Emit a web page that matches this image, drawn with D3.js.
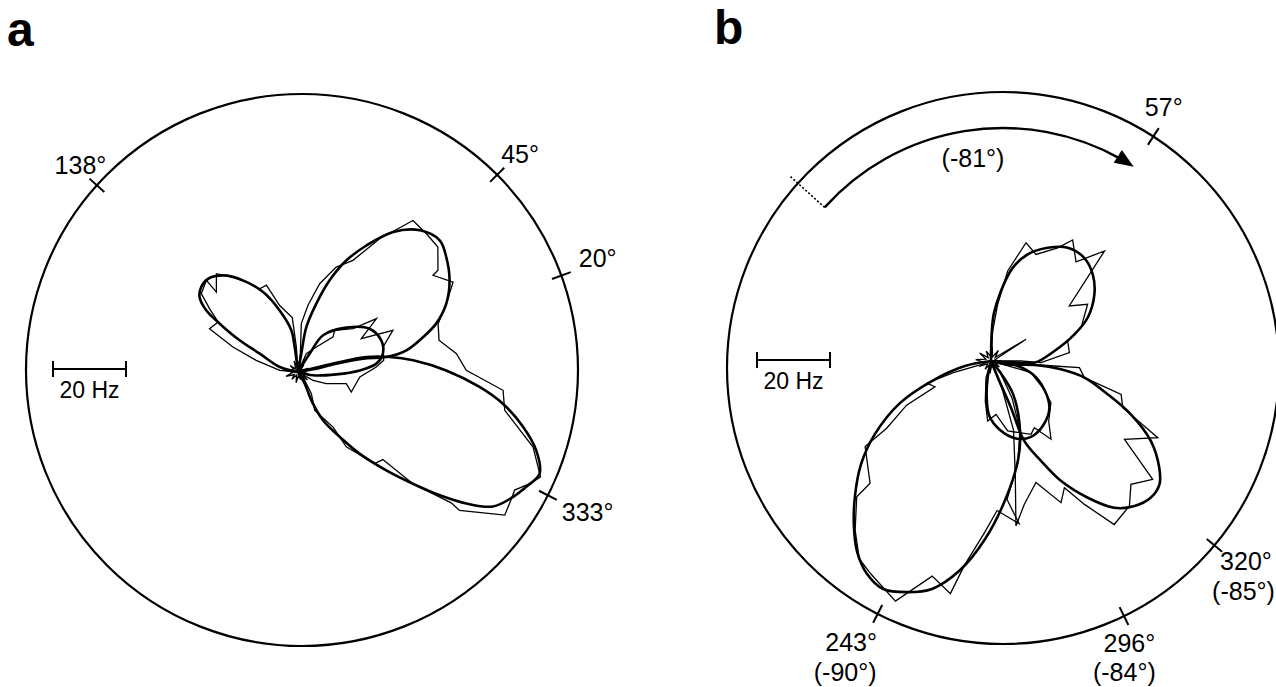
<!DOCTYPE html>
<meta charset="utf-8">
<title>Directional tuning before and after cue rotation</title>
<style>

body {
  margin: 0;
  background: #fff;
}

text {
  font-family: "Liberation Sans", Arial, Helvetica, sans-serif;
  fill: #000;
}

.panel-letter {
  font-size: 48px;
  font-weight: bold;
}

.label {
  font-size: 25px;
}

.bar-label {
  font-size: 23px;
}

.outer {
  fill: none;
  stroke: #000;
  stroke-width: 2.2px;
}

.tick, .bar {
  stroke: #000;
  stroke-width: 2px;
}

.fit {
  fill: none;
  stroke: #000;
  stroke-width: 2.6px;
  stroke-linejoin: round;
}

.raw {
  fill: none;
  stroke: #000;
  stroke-width: 1.3px;
}

.rotation {
  fill: none;
  stroke: #000;
  stroke-width: 2.4px;
}

.rotation-start {
  stroke: #000;
  stroke-width: 1.6px;
  stroke-dasharray: 2,2;
}

</style>
<svg id="chart" width="1276" height="687"></svg>

<script src="https://d3js.org/d3.v7.min.js"></script>
<script>

// rates are [direction in degrees (counter-clockwise from east), firing rate in Hz]
// ---- panel a ----
var fitA138 = [[120,0],[97.6,6.9],[99.1,11.6],[106.6,17.6],[113.6,23.9],[121,29.3],[127.8,33.5],[134,35.5],[138.7,35.3],[142.7,33.9],[146.1,30.3],[148.3,25.2],[151.5,18.2],[154.4,11.6],[164.7,5.2],[160,0]];
var fitA45 = [[80,0],[79.7,5.1],[79.5,12.5],[75,19.4],[71,26.6],[66.6,33.3],[61.6,39.4],[55.8,46.4],[49.3,51.2],[42.9,53],[37.8,51.4],[31.1,48.5],[24.7,44.7],[19.3,40.1],[15.6,35.6],[11.3,30.3],[9.6,24.5],[11.6,18.2],[12.3,10.7],[10,4.2],[10,0]];
var fitA20 = [[60,0],[57.5,6],[55.7,12.2],[42.5,18],[31.2,22.9],[20.8,24.4],[12.2,23.8],[6.1,21.6],[1.5,16.9],[-3.5,10.5],[-12.5,4.2],[-10,0]];
var fitA333 = [[13,0],[13.3,5.2],[13.5,11.7],[12.4,19.2],[9.3,25.5],[5.8,31.7],[0.6,40.6],[-4.7,49.9],[-8.8,56.8],[-13.7,63.5],[-18.2,68.7],[-22.8,71.8],[-26.7,70],[-30.2,68.1],[-34.6,64.9],[-38,58.5],[-41,51.5],[-44.2,43.9],[-48.1,36.2],[-53,28],[-57.3,21.1],[-62.6,14.9],[-64.8,8.6],[-60,3.7],[-60,0]];

var rawA138 = [[90,0],[93.8,6.9],[96,15],[105.4,18.9],[110,25.3],[114.7,25.1],[119.9,28.4],[124.4,31.5],[129.7,35],[135.6,31.3],[135,35.5],[141,34.1],[144.4,29.8],[148,25.8],[153.9,27],[159,19.1],[164.4,11.9],[174.8,5],[170,0]];
var rawA20 = [[60,0],[65.6,5.5],[53.7,8.5],[45,13.6],[48.7,15.2],[38.2,19.2],[34.2,26],[27.8,19.6],[23.7,28.4],[16.4,24.3],[7.8,23.7],[3.7,21.5],[-4.6,17],[-20.6,15.6],[-13.5,13.6],[-22.4,8.4],[-29,4.7],[-20,0]];
var rawA45to333 = [[80,0],[82.7,5.1],[86.1,13.3],[81.5,18.5],[76.2,24.9],[70,30.6],[63.8,34.1],[58.5,42.8],[52.8,52.1],[47.1,51.7],[41.8,51.4],[36,47.4],[35.6,45.5],[30.1,49.1],[24.7,44.7],[19,40.6],[12.7,39.6],[6.6,43.7],[0.6,46.1],[-5.1,56.4],[-10.5,57.6],[-17.7,67.6],[-23.4,72.4],[-25.7,70.5],[-28.6,67.6],[-30.7,68],[-34.7,68.9],[-40.6,58.3],[-40.5,55.2],[-44.2,43.9],[-45.9,33.4],[-50.1,32.7],[-57.2,24.4],[-57.5,17.9],[-66.5,11.5],[-58.4,7],[-45,1.9],[-45,0]];
var knotA = [[0,1.5],[20,3],[35,0.8],[50,2.5],[65,1],[80,4],[95,1.2],[110,3.2],[125,1],[140,2.8],[155,1.1],[170,4.2],[185,1.5],[200,3.5],[215,1.2],[230,2.6],[245,0.9],[260,3],[275,1.1],[290,2.2],[305,1],[320,3.4],[335,1.2],[350,2.8]];

var ticksA = [138, 45, 20, 333];
var tickLabelsA = [["138°"], ["45°"], ["20°"], ["333°"]];

// ---- panel b ----
var fitB57 = [[90,0],[88.6,7.3],[86.7,12.8],[81.9,19.4],[76.9,26.2],[71,30.9],[63.4,34.7],[55.9,37.5],[47.9,38.1],[40.4,36.6],[32.8,33.7],[24.1,29],[17.7,24],[9,17.6],[-2.2,11.9],[-3,5.5],[-3,0]];
var fitB320 = [[-10,0],[-11.3,4.7],[-5.3,11.9],[-6.8,19.3],[-10.1,26],[-15.9,33.2],[-20.9,41],[-26.6,49],[-32.4,54.6],[-36.2,57.2],[-40.5,57.6],[-45.3,55.9],[-50,52.5],[-54.7,45.9],[-59.7,38.1],[-63.4,30.6],[-67.4,23.7],[-66.8,13.9],[-67.4,5.9],[-67,0]];
var fitB296 = [[-100,0],[-101.3,4.7],[-96.7,10.1],[-91.7,15.1],[-83,18.9],[-72.1,22.3],[-62.2,23.5],[-50.3,22.6],[-38.7,20.5],[-28,16.5],[-17.7,12],[-10.6,7.4],[-10,0]];
var fitB243 = [[190,0],[190.9,7.3],[198.7,17.1],[204.8,27.5],[212.2,37.6],[218.4,45.4],[224.6,52.3],[230.3,58.8],[235,63.9],[239.8,67.5],[244.7,69.1],[250.2,67.3],[255.5,64.5],[261.6,57.9],[268.1,48.8],[275.8,38.3],[285.3,28.1],[292.8,20.5],[303.7,10.9],[309.3,3.9],[310,0]];

var rawB57 = [[90,0],[86.8,8.2],[83.3,15.6],[79.5,25.1],[73.5,33.8],[67.1,31.7],[59.5,36],[56,40],[49.4,35.8],[44.1,43.3],[35.1,26.2],[30.4,30.7],[20.3,26.3],[14.6,21.7],[6.1,21.6],[-1.9,13.7],[0,8.2],[0,0]];
var rawB320 = [[-5,0],[-5.1,8.2],[-4.5,17.4],[-4.3,24.3],[-10.1,26],[-14.4,36.8],[-19.5,38.3],[-24.7,50.3],[-30.4,42.4],[-36.2,54.9],[-41.4,51.1],[-46.3,54.9],[-53,56.1],[-56.9,46.9],[-59.9,40.1],[-63.7,43.3],[-69.7,35.5],[-76.9,40.3],[-81.4,45.7],[-78,32],[-72,20],[-68,8],[-68,0]];
var rawB296 = [[-105,0],[-106.7,4.8],[-98.1,11.1],[-93.2,16.5],[-84.6,14.7],[-76.6,19.7],[-61.4,22.9],[-57,21.8],[-52.5,27],[-46.1,22.8],[-34.8,20],[-27.3,15.9],[-16.3,11.4],[-15.9,6.6],[-15,0]];
var rawB243 = [[200,0],[200,3.2],[197.2,10.8],[199.1,18.6],[204.7,16.9],[207.6,26.1],[212.8,34],[214.2,41.7],[225.3,47.1],[225.3,52.3],[231.2,59.4],[236.3,65.1],[240.6,67],[248.3,70.8],[254.7,61.1],[260.1,64.7],[262.6,56.4],[267.9,47],[272.3,41],[279.8,45.2],[276.6,38.2],[285,28.6],[292.8,20.5],[299.6,11.7],[309.3,3.9],[310,0]];
var knotB = [[0,2.5],[15,1],[31.8,11.3],[40,1.5],[55,3.5],[70,1.2],[85,4],[100,1.5],[115,3],[130,1.2],[145,3.8],[160,1.5],[175,4.2],[190,2],[205,3.2],[220,1.2],[235,2.8],[250,1],[265,3.5],[280,1.2],[295,3],[310,1],[325,2.8],[340,1.2]];

var ticksB = [57, 320, 296, 243];
var tickLabelsB = [["57°"], ["320°", "(-85°)"], ["296°", "(-84°)"], ["243°", "(-90°)"]];

var rotationArc = [138, 57];
var rotationLabel = "(-81°)";

var scaleBarHz = 20;

// ---- layout ----
var outerR = 276,
    tickHalf = 10;

// nudges for each tick label line, relative to the outer end of its tick: [anchor, dx, dy]
var labelNudge = {
  "138°": ["middle", -9, -5],
  "45°": ["start", -3, -5],
  "20°": ["start", 8, -5],
  "333°": ["start", 5, 21],
  "57°": ["middle", 5, -12],
  "320°": ["start", -2, 18],
  "(-85°)": ["start", -10, 48],
  "296°": ["middle", 1, 27],
  "(-84°)": ["middle", -4, 56],
  "243°": ["middle", -22, 28],
  "(-90°)": ["middle", -28, 58]
};

var panels = [
  {letter: "a", letterPos: [7, 46], origin: [298, 372], center: [302, 370], bar: [53, 369],
   fits: [fitA138, fitA45, fitA20, fitA333], raws: [rawA138, rawA20, rawA45to333], knot: knotA,
   ticks: ticksA, labels: tickLabelsA},
  {letter: "b", letterPos: [714, 44], origin: [991, 361], center: [1003, 368], bar: [757, 360],
   fits: [fitB57, fitB320, fitB296, fitB243], raws: [rawB57, rawB320, rawB296, rawB243], knot: knotB,
   ticks: ticksB, labels: tickLabelsB, rotation: true}
];

var r = d3.scaleLinear()
    .domain([0, 20])
    .range([0, 73]);

var rad = function(deg) { return deg * Math.PI / 180; };

// d3.lineRadial measures angles clockwise from north
var fitLine = d3.lineRadial()
    .angle(function(d) { return rad(90 - d[0]); })
    .radius(function(d) { return r(d[1]); })
    .curve(d3.curveCatmullRom.alpha(0.5));

var rawLine = d3.lineRadial()
    .angle(function(d) { return rad(90 - d[0]); })
    .radius(function(d) { return r(d[1]); })
    .curve(d3.curveLinear);

var knotLine = d3.lineRadial()
    .angle(function(d) { return rad(90 - d[0]); })
    .radius(function(d) { return r(d[1]); })
    .curve(d3.curveLinearClosed);

var svg = d3.select("#chart");

function polar(c, radius, deg) {
  return [c[0] + radius * Math.cos(rad(deg)), c[1] - radius * Math.sin(rad(deg))];
}

panels.forEach(function(p) {
  var g = svg.append("g");

  g.append("text")
      .attr("class", "panel-letter")
      .attr("x", p.letterPos[0])
      .attr("y", p.letterPos[1])
      .text(p.letter);

  g.append("circle")
      .attr("class", "outer")
      .attr("cx", p.center[0])
      .attr("cy", p.center[1])
      .attr("r", outerR);

  p.ticks.forEach(function(deg, i) {
    var a = polar(p.center, outerR - tickHalf, deg),
        b = polar(p.center, outerR + tickHalf, deg);
    g.append("line")
        .attr("class", "tick")
        .attr("x1", a[0]).attr("y1", a[1])
        .attr("x2", b[0]).attr("y2", b[1]);
    p.labels[i].forEach(function(txt) {
      var n = labelNudge[txt];
      g.append("text")
          .attr("class", "label")
          .attr("x", b[0] + n[1])
          .attr("y", b[1] + n[2])
          .style("text-anchor", n[0])
          .text(txt);
    });
  });

  // scale bar
  var barLen = r(scaleBarHz);
  var bar = g.append("g").attr("transform", "translate(" + p.bar[0] + "," + p.bar[1] + ")");
  bar.append("line").attr("class", "bar").attr("x1", 0).attr("x2", barLen).attr("y1", 0).attr("y2", 0);
  bar.append("line").attr("class", "bar").attr("x1", 0).attr("x2", 0).attr("y1", -8).attr("y2", 8);
  bar.append("line").attr("class", "bar").attr("x1", barLen).attr("x2", barLen).attr("y1", -8).attr("y2", 8);
  bar.append("text")
      .attr("class", "bar-label")
      .attr("x", barLen / 2)
      .attr("y", 29)
      .style("text-anchor", "middle")
      .text(scaleBarHz + " Hz");

  var plot = g.append("g")
      .attr("transform", "translate(" + p.origin[0] + "," + p.origin[1] + ")");

  plot.append("path").attr("class", "raw").attr("d", knotLine(p.knot));

  p.raws.forEach(function(d) {
    plot.append("path").attr("class", "raw").attr("d", rawLine(d));
  });

  p.fits.forEach(function(d) {
    plot.append("path").attr("class", "fit").attr("d", fitLine(d));
  });

  if (p.rotation) {
    var arcR = 240,
        headLen = 19,
        headW = 15,
        from = rotationArc[0],
        to = rotationArc[1];

    // dotted line marking the cue position before rotation
    var d0 = polar(p.center, arcR, from),
        d1 = polar(p.center, outerR + tickHalf, from);
    g.append("line")
        .attr("class", "rotation-start")
        .attr("x1", d0[0]).attr("y1", d0[1])
        .attr("x2", d1[0]).attr("y2", d1[1]);

    var path = d3.path();
    path.arc(p.center[0], p.center[1], arcR, rad(-from), rad(-(to + headLen / arcR * 180 / Math.PI * 0.8)), false);
    g.append("path").attr("class", "rotation").attr("d", path.toString());

    // arrowhead
    var tip = polar(p.center, arcR, to),
        phi = rad(-to),
        t = [-Math.sin(phi), Math.cos(phi)],
        nrm = [-t[1], t[0]],
        base = [tip[0] - headLen * t[0], tip[1] - headLen * t[1]];
    g.append("path")
        .attr("d", "M" + tip + "L" + [base[0] + nrm[0] * headW / 2, base[1] + nrm[1] * headW / 2] +
                   "L" + [base[0] - nrm[0] * headW / 2, base[1] - nrm[1] * headW / 2] + "Z")
        .attr("fill", "#000");

    var lp = polar(p.center, arcR - 37, (from + to) / 2 + 1);
    g.append("text")
        .attr("class", "label")
        .attr("x", lp[0])
        .attr("y", lp[1])
        .style("text-anchor", "middle")
        .text(rotationLabel);
  }
});

</script>
